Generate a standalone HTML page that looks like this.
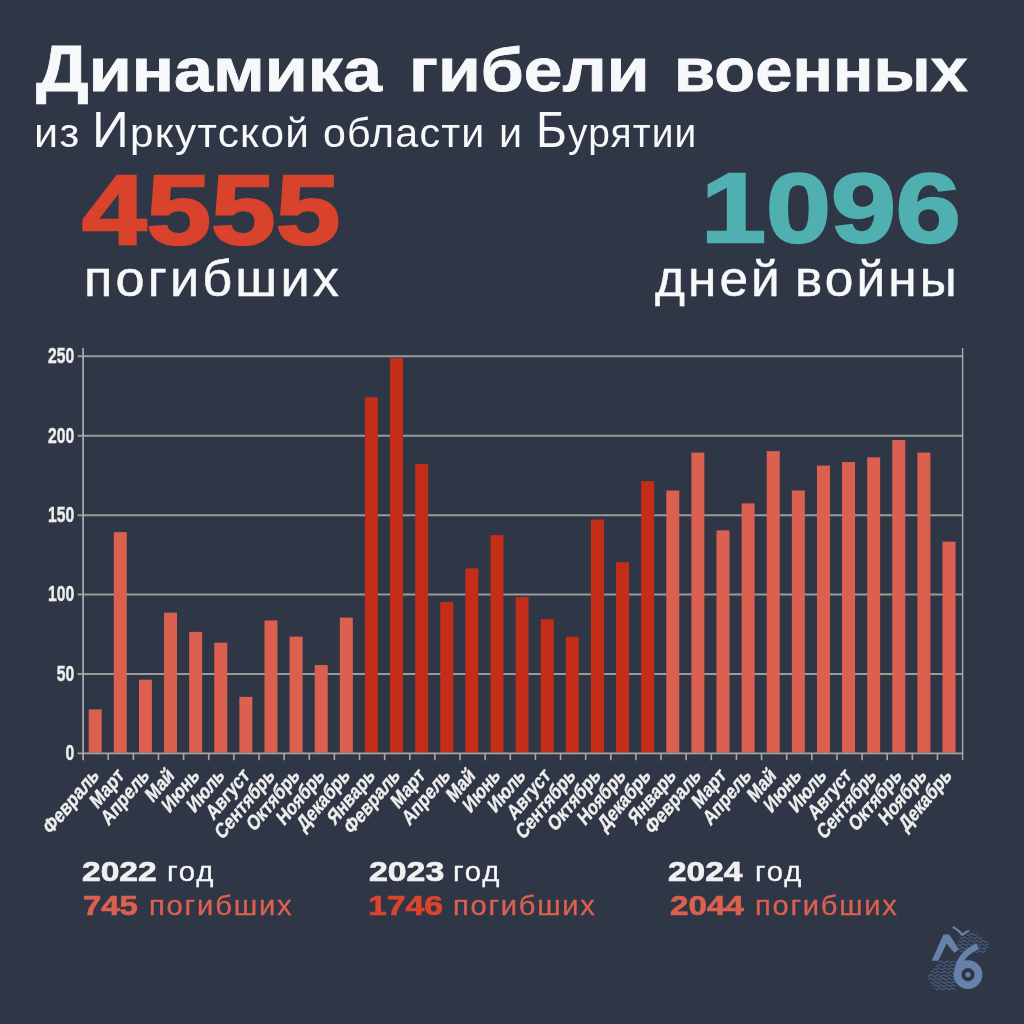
<!DOCTYPE html>
<html lang="ru">
<head>
<meta charset="utf-8">
<title>Динамика гибели военных</title>
<style>
html,body{margin:0;padding:0;}
body{width:1024px;height:1024px;overflow:hidden;background:#2f3645;font-family:"Liberation Sans",sans-serif;}
#page{position:relative;width:1024px;height:1024px;overflow:hidden;background:#2f3645;}
h1,h2,p,div.st,div.lg{margin:0;padding:0;font-weight:normal;font-size:0;}
.t{position:absolute;white-space:nowrap;line-height:1;transform-origin:0 0;display:block;}
.b{font-weight:bold;}
svg{position:absolute;left:0;top:0;}
svg text{font-family:"Liberation Sans",sans-serif;font-weight:bold;}
#t1{left:35.60px;top:39.02px;font-size:61.4px;color:#f7f8fa;transform:scaleX(1.1406);-webkit-text-stroke:0.8px #f7f8fa;}
#t2{left:409.47px;top:39.02px;font-size:61.4px;color:#f7f8fa;transform:scaleX(1.1339);-webkit-text-stroke:0.8px #f7f8fa;}
#t3{left:673.65px;top:39.02px;font-size:61.4px;color:#f7f8fa;transform:scaleX(1.0911);-webkit-text-stroke:0.8px #f7f8fa;}
#s1{left:34.48px;top:113.25px;font-size:41.4px;color:#f7f8fa;transform:scaleX(1.0433);letter-spacing:0.03em;}
#s2{left:92.02px;top:113.25px;font-size:41.4px;color:#f7f8fa;transform:scaleX(1.0220);letter-spacing:0.03em;}
#s3{left:323.10px;top:113.25px;font-size:41.4px;color:#f7f8fa;transform:scaleX(0.9938);letter-spacing:0.03em;}
#s4{left:499.36px;top:113.25px;font-size:41.4px;color:#f7f8fa;transform:scaleX(0.9978);letter-spacing:0.03em;}
#s5{left:536.11px;top:113.25px;font-size:41.4px;color:#f7f8fa;transform:scaleX(0.9390);letter-spacing:0.03em;}
#n1{left:81.52px;top:162.01px;font-size:97.8px;color:#d9432b;transform:scaleX(1.1867);-webkit-text-stroke:2.4px #d9432b;}
#l1{left:83.60px;top:253.58px;font-size:50.0px;color:#f7f8fa;transform:scaleX(1.0460);letter-spacing:0.06em;-webkit-text-stroke:0.5px #f7f8fa;}
#n2{left:700.76px;top:160.31px;font-size:97.8px;color:#50b0b1;transform:scaleX(1.1942);-webkit-text-stroke:2.4px #50b0b1;}
#l2a{left:654.74px;top:253.58px;font-size:50.0px;color:#f7f8fa;transform:scaleX(1.0263);letter-spacing:0.06em;-webkit-text-stroke:0.5px #f7f8fa;}
#l2b{left:795.36px;top:253.58px;font-size:50.0px;color:#f7f8fa;transform:scaleX(1.0282);letter-spacing:0.06em;-webkit-text-stroke:0.5px #f7f8fa;}
#y22{left:82.33px;top:857.54px;font-size:27.6px;color:#f0f0f0;transform:scaleX(1.2174);-webkit-text-stroke:0.7px #f0f0f0;}
#g22{left:166.84px;top:857.21px;font-size:28.4px;color:#f7f8fa;transform:scaleX(1.0353);letter-spacing:0.06em;-webkit-text-stroke:0.3px #f7f8fa;}
#c22{left:82.77px;top:892.09px;font-size:27.6px;color:#dc6050;transform:scaleX(1.1873);-webkit-text-stroke:0.7px #dc6050;}
#p22{left:148.60px;top:890.96px;font-size:28.4px;color:#dc6050;transform:scaleX(1.0304);letter-spacing:0.06em;-webkit-text-stroke:0.3px #dc6050;}
#y23{left:369.07px;top:857.54px;font-size:27.6px;color:#f0f0f0;transform:scaleX(1.2257);-webkit-text-stroke:0.7px #f0f0f0;}
#g23{left:452.84px;top:857.21px;font-size:28.4px;color:#f7f8fa;transform:scaleX(1.0353);letter-spacing:0.06em;-webkit-text-stroke:0.3px #f7f8fa;}
#c23{left:368.06px;top:892.09px;font-size:27.6px;color:#dc442e;transform:scaleX(1.2218);-webkit-text-stroke:0.7px #dc442e;}
#p23{left:452.86px;top:890.96px;font-size:28.4px;color:#dc6050;transform:scaleX(1.0249);letter-spacing:0.06em;-webkit-text-stroke:0.3px #dc6050;}
#y24{left:668.33px;top:857.54px;font-size:27.6px;color:#f0f0f0;transform:scaleX(1.2105);-webkit-text-stroke:0.7px #f0f0f0;}
#g24{left:754.60px;top:857.21px;font-size:28.4px;color:#f7f8fa;transform:scaleX(1.0294);letter-spacing:0.06em;-webkit-text-stroke:0.3px #f7f8fa;}
#c24{left:669.84px;top:892.09px;font-size:27.6px;color:#dc6050;transform:scaleX(1.2023);-webkit-text-stroke:0.7px #dc6050;}
#p24{left:754.61px;top:890.96px;font-size:28.4px;color:#dc6050;transform:scaleX(1.0249);letter-spacing:0.06em;-webkit-text-stroke:0.3px #dc6050;}
</style>
</head>
<body>
<div id="page">
<h1 id="title"><span id="t1" class="t b"><span class="cap" style="font-size:1.057em;line-height:0">Д</span>инамика</span> <span id="t2" class="t b">гибели</span> <span id="t3" class="t b">военных</span></h1>
<h2 id="sub"><span id="s1" class="t">из</span> <span id="s2" class="t"><span class="cap" style="font-size:1.21em;line-height:0">И</span>ркутской</span> <span id="s3" class="t">области</span> <span id="s4" class="t">и</span> <span id="s5" class="t"><span class="cap" style="font-size:1.21em;line-height:0">Б</span>урятии</span></h2>
<div id="stat1" class="st"><span id="n1" class="t b">4555</span> <span id="l1" class="t">погибших</span></div>
<div id="stat2" class="st"><span id="n2" class="t b">1096</span> <span id="l2a" class="t">дней</span> <span id="l2b" class="t">войны</span></div>
<div id="leg22" class="lg"><span id="y22" class="t b">2022</span> <span id="g22" class="t">год</span> <span id="c22" class="t b">745</span> <span id="p22" class="t">погибших</span></div>
<div id="leg23" class="lg"><span id="y23" class="t b">2023</span> <span id="g23" class="t">год</span> <span id="c23" class="t b">1746</span> <span id="p23" class="t">погибших</span></div>
<div id="leg24" class="lg"><span id="y24" class="t b">2024</span> <span id="g24" class="t">год</span> <span id="c24" class="t b">2044</span> <span id="p24" class="t">погибших</span></div>
<svg id="chart" width="1024" height="1024" viewBox="0 0 1024 1024" style="filter:blur(0.6px)">
<g id="grid" stroke="#9b9b98" stroke-width="2.0" fill="none">
<line x1="77.6" y1="673.98" x2="962.6" y2="673.98"/>
<line x1="77.6" y1="594.56" x2="962.6" y2="594.56"/>
<line x1="77.6" y1="515.14" x2="962.6" y2="515.14"/>
<line x1="77.6" y1="435.72" x2="962.6" y2="435.72"/>
<line x1="77.6" y1="356.30" x2="962.6" y2="356.30"/>
</g>
<g id="bars">
<rect x="88.70" y="709.40" width="13.0" height="43.10" fill="#dc6050"/>
<rect x="113.81" y="532.14" width="13.0" height="220.36" fill="#dc6050"/>
<rect x="138.92" y="679.70" width="13.0" height="72.80" fill="#dc6050"/>
<rect x="164.04" y="612.67" width="13.0" height="139.83" fill="#dc6050"/>
<rect x="189.15" y="631.89" width="13.0" height="120.61" fill="#dc6050"/>
<rect x="214.26" y="642.69" width="13.0" height="109.81" fill="#dc6050"/>
<rect x="239.37" y="696.85" width="13.0" height="55.65" fill="#dc6050"/>
<rect x="264.48" y="620.45" width="13.0" height="132.05" fill="#dc6050"/>
<rect x="289.60" y="636.65" width="13.0" height="115.85" fill="#dc6050"/>
<rect x="314.71" y="665.08" width="13.0" height="87.42" fill="#dc6050"/>
<rect x="339.82" y="617.59" width="13.0" height="134.91" fill="#dc6050"/>
<rect x="364.93" y="397.28" width="13.0" height="355.22" fill="#c42e18"/>
<rect x="390.04" y="358.05" width="13.0" height="394.45" fill="#c42e18"/>
<rect x="415.16" y="463.83" width="13.0" height="288.67" fill="#c42e18"/>
<rect x="440.27" y="601.87" width="13.0" height="150.63" fill="#c42e18"/>
<rect x="465.38" y="568.35" width="13.0" height="184.15" fill="#c42e18"/>
<rect x="490.49" y="535.15" width="13.0" height="217.35" fill="#c42e18"/>
<rect x="515.60" y="597.10" width="13.0" height="155.40" fill="#c42e18"/>
<rect x="540.72" y="619.18" width="13.0" height="133.32" fill="#c42e18"/>
<rect x="565.83" y="636.81" width="13.0" height="115.69" fill="#c42e18"/>
<rect x="590.94" y="519.59" width="13.0" height="232.91" fill="#c42e18"/>
<rect x="616.05" y="562.16" width="13.0" height="190.34" fill="#c42e18"/>
<rect x="641.16" y="481.15" width="13.0" height="271.35" fill="#c42e18"/>
<rect x="666.28" y="490.52" width="13.0" height="261.98" fill="#dc6050"/>
<rect x="691.39" y="452.56" width="13.0" height="299.94" fill="#dc6050"/>
<rect x="716.50" y="530.39" width="13.0" height="222.11" fill="#dc6050"/>
<rect x="741.61" y="503.39" width="13.0" height="249.11" fill="#dc6050"/>
<rect x="766.72" y="451.13" width="13.0" height="301.37" fill="#dc6050"/>
<rect x="791.84" y="490.52" width="13.0" height="261.98" fill="#dc6050"/>
<rect x="816.95" y="465.58" width="13.0" height="286.92" fill="#dc6050"/>
<rect x="842.06" y="462.09" width="13.0" height="290.41" fill="#dc6050"/>
<rect x="867.17" y="457.32" width="13.0" height="295.18" fill="#dc6050"/>
<rect x="892.28" y="440.01" width="13.0" height="312.49" fill="#dc6050"/>
<rect x="917.40" y="452.56" width="13.0" height="299.94" fill="#dc6050"/>
<rect x="942.51" y="541.67" width="13.0" height="210.83" fill="#dc6050"/>
</g>
<g id="axes" stroke="#a6a6a4" fill="none">
<line x1="77.6" y1="753.4" x2="962.6" y2="753.4" stroke-width="1.8"/>
<line x1="83.1" y1="348" x2="83.1" y2="760.2" stroke-width="1.8"/>
<line x1="962.6" y1="348" x2="962.6" y2="760.2" stroke-width="1.4" stroke="#a9adad"/>
<line x1="108.23" y1="753.4" x2="108.23" y2="760.2" stroke-width="1.6"/>
<line x1="133.36" y1="753.4" x2="133.36" y2="760.2" stroke-width="1.6"/>
<line x1="158.49" y1="753.4" x2="158.49" y2="760.2" stroke-width="1.6"/>
<line x1="183.61" y1="753.4" x2="183.61" y2="760.2" stroke-width="1.6"/>
<line x1="208.74" y1="753.4" x2="208.74" y2="760.2" stroke-width="1.6"/>
<line x1="233.87" y1="753.4" x2="233.87" y2="760.2" stroke-width="1.6"/>
<line x1="259.00" y1="753.4" x2="259.00" y2="760.2" stroke-width="1.6"/>
<line x1="284.13" y1="753.4" x2="284.13" y2="760.2" stroke-width="1.6"/>
<line x1="309.26" y1="753.4" x2="309.26" y2="760.2" stroke-width="1.6"/>
<line x1="334.39" y1="753.4" x2="334.39" y2="760.2" stroke-width="1.6"/>
<line x1="359.51" y1="753.4" x2="359.51" y2="760.2" stroke-width="1.6"/>
<line x1="384.64" y1="753.4" x2="384.64" y2="760.2" stroke-width="1.6"/>
<line x1="409.77" y1="753.4" x2="409.77" y2="760.2" stroke-width="1.6"/>
<line x1="434.90" y1="753.4" x2="434.90" y2="760.2" stroke-width="1.6"/>
<line x1="460.03" y1="753.4" x2="460.03" y2="760.2" stroke-width="1.6"/>
<line x1="485.16" y1="753.4" x2="485.16" y2="760.2" stroke-width="1.6"/>
<line x1="510.29" y1="753.4" x2="510.29" y2="760.2" stroke-width="1.6"/>
<line x1="535.41" y1="753.4" x2="535.41" y2="760.2" stroke-width="1.6"/>
<line x1="560.54" y1="753.4" x2="560.54" y2="760.2" stroke-width="1.6"/>
<line x1="585.67" y1="753.4" x2="585.67" y2="760.2" stroke-width="1.6"/>
<line x1="610.80" y1="753.4" x2="610.80" y2="760.2" stroke-width="1.6"/>
<line x1="635.93" y1="753.4" x2="635.93" y2="760.2" stroke-width="1.6"/>
<line x1="661.06" y1="753.4" x2="661.06" y2="760.2" stroke-width="1.6"/>
<line x1="686.19" y1="753.4" x2="686.19" y2="760.2" stroke-width="1.6"/>
<line x1="711.31" y1="753.4" x2="711.31" y2="760.2" stroke-width="1.6"/>
<line x1="736.44" y1="753.4" x2="736.44" y2="760.2" stroke-width="1.6"/>
<line x1="761.57" y1="753.4" x2="761.57" y2="760.2" stroke-width="1.6"/>
<line x1="786.70" y1="753.4" x2="786.70" y2="760.2" stroke-width="1.6"/>
<line x1="811.83" y1="753.4" x2="811.83" y2="760.2" stroke-width="1.6"/>
<line x1="836.96" y1="753.4" x2="836.96" y2="760.2" stroke-width="1.6"/>
<line x1="862.09" y1="753.4" x2="862.09" y2="760.2" stroke-width="1.6"/>
<line x1="887.21" y1="753.4" x2="887.21" y2="760.2" stroke-width="1.6"/>
<line x1="912.34" y1="753.4" x2="912.34" y2="760.2" stroke-width="1.6"/>
<line x1="937.47" y1="753.4" x2="937.47" y2="760.2" stroke-width="1.6"/>
</g>
<g id="ylabels" fill="#eeeeee" stroke="#eeeeee" stroke-width="0.4" font-size="18.15" text-anchor="end">
<text transform="translate(74.3,760.30) scale(0.865,1.2)">0</text>
<text transform="translate(74.3,680.88) scale(0.865,1.2)">50</text>
<text transform="translate(74.3,601.46) scale(0.865,1.2)">100</text>
<text transform="translate(74.3,522.04) scale(0.865,1.2)">150</text>
<text transform="translate(74.3,442.62) scale(0.865,1.2)">200</text>
<text transform="translate(74.3,363.20) scale(0.865,1.2)">250</text>
</g>
<g id="xlabels" fill="#eeeeee" stroke="#eeeeee" stroke-width="0.4" font-size="18.15" text-anchor="end">
<text transform="translate(99.90,776.7) scale(1,1.2) rotate(-45) scale(0.865,1)">Февраль</text>
<text transform="translate(124.98,776.7) scale(1,1.2) rotate(-45) scale(0.865,1)">Март</text>
<text transform="translate(150.06,776.7) scale(1,1.2) rotate(-45) scale(0.865,1)">Апрель</text>
<text transform="translate(175.14,776.7) scale(1,1.2) rotate(-45) scale(0.865,1)">Май</text>
<text transform="translate(200.22,776.7) scale(1,1.2) rotate(-45) scale(0.865,1)">Июнь</text>
<text transform="translate(225.30,776.7) scale(1,1.2) rotate(-45) scale(0.865,1)">Июль</text>
<text transform="translate(250.38,776.7) scale(1,1.2) rotate(-45) scale(0.865,1)">Август</text>
<text transform="translate(275.46,776.7) scale(1,1.2) rotate(-45) scale(0.865,1)">Сентябрь</text>
<text transform="translate(300.54,776.7) scale(1,1.2) rotate(-45) scale(0.865,1)">Октябрь</text>
<text transform="translate(325.62,776.7) scale(1,1.2) rotate(-45) scale(0.865,1)">Ноябрь</text>
<text transform="translate(350.70,776.7) scale(1,1.2) rotate(-45) scale(0.865,1)">Декабрь</text>
<text transform="translate(375.78,776.7) scale(1,1.2) rotate(-45) scale(0.865,1)">Январь</text>
<text transform="translate(400.86,776.7) scale(1,1.2) rotate(-45) scale(0.865,1)">Февраль</text>
<text transform="translate(425.94,776.7) scale(1,1.2) rotate(-45) scale(0.865,1)">Март</text>
<text transform="translate(451.02,776.7) scale(1,1.2) rotate(-45) scale(0.865,1)">Апрель</text>
<text transform="translate(476.10,776.7) scale(1,1.2) rotate(-45) scale(0.865,1)">Май</text>
<text transform="translate(501.18,776.7) scale(1,1.2) rotate(-45) scale(0.865,1)">Июнь</text>
<text transform="translate(526.26,776.7) scale(1,1.2) rotate(-45) scale(0.865,1)">Июль</text>
<text transform="translate(551.34,776.7) scale(1,1.2) rotate(-45) scale(0.865,1)">Август</text>
<text transform="translate(576.42,776.7) scale(1,1.2) rotate(-45) scale(0.865,1)">Сентябрь</text>
<text transform="translate(601.50,776.7) scale(1,1.2) rotate(-45) scale(0.865,1)">Октябрь</text>
<text transform="translate(626.58,776.7) scale(1,1.2) rotate(-45) scale(0.865,1)">Ноябрь</text>
<text transform="translate(651.66,776.7) scale(1,1.2) rotate(-45) scale(0.865,1)">Декабрь</text>
<text transform="translate(676.74,776.7) scale(1,1.2) rotate(-45) scale(0.865,1)">Январь</text>
<text transform="translate(701.82,776.7) scale(1,1.2) rotate(-45) scale(0.865,1)">Февраль</text>
<text transform="translate(726.90,776.7) scale(1,1.2) rotate(-45) scale(0.865,1)">Март</text>
<text transform="translate(751.98,776.7) scale(1,1.2) rotate(-45) scale(0.865,1)">Апрель</text>
<text transform="translate(777.06,776.7) scale(1,1.2) rotate(-45) scale(0.865,1)">Май</text>
<text transform="translate(802.14,776.7) scale(1,1.2) rotate(-45) scale(0.865,1)">Июнь</text>
<text transform="translate(827.22,776.7) scale(1,1.2) rotate(-45) scale(0.865,1)">Июль</text>
<text transform="translate(852.30,776.7) scale(1,1.2) rotate(-45) scale(0.865,1)">Август</text>
<text transform="translate(877.38,776.7) scale(1,1.2) rotate(-45) scale(0.865,1)">Сентябрь</text>
<text transform="translate(902.46,776.7) scale(1,1.2) rotate(-45) scale(0.865,1)">Октябрь</text>
<text transform="translate(927.54,776.7) scale(1,1.2) rotate(-45) scale(0.865,1)">Ноябрь</text>
<text transform="translate(952.62,776.7) scale(1,1.2) rotate(-45) scale(0.865,1)">Декабрь</text>
</g>
</svg>
<svg id="logo" width="1024" height="1024" viewBox="0 0 1024 1024" style="filter:blur(0.35px)">
<defs><clipPath id="w1"><polygon points="941,959.5 957,961.5 956,990.5 936,990.5 926.5,977"/></clipPath><clipPath id="w2"><polygon points="960,934.5 975,931.5 990,943 985,954 960,953.5 957,945"/></clipPath></defs>
<g fill="none" stroke="#5873a0" stroke-width="1.25" opacity="0.6">
<g clip-path="url(#w1)">
<path d="M925.0,962.8L925.8,962.8L926.6,962.3L927.4,961.6L928.1,961.1L928.9,961.2L929.7,961.7L930.5,962.4L931.3,962.9L932.1,962.8L932.9,962.2L933.6,961.5L934.4,961.1L935.2,961.2L936.0,961.8L936.8,962.5L937.6,962.9L938.4,962.7L939.1,962.1L939.9,961.5L940.7,961.1L941.5,961.3L942.3,961.9L943.1,962.6L943.9,962.9L944.6,962.7L945.4,962.1L946.2,961.4L947.0,961.1L947.8,961.3L948.6,962.0L949.4,962.6L950.1,962.9L950.9,962.6L951.7,962.0L952.5,961.3L953.3,961.1L954.1,961.4L954.9,962.1L955.6,962.7L956.4,962.9L957.2,962.6L958.0,961.9"/>
<path d="M925.0,966.2L925.8,965.6L926.6,964.9L927.4,964.5L928.1,964.7L928.9,965.2L929.7,965.9L930.5,966.3L931.3,966.1L932.1,965.5L932.9,964.9L933.6,964.5L934.4,964.7L935.2,965.3L936.0,966.0L936.8,966.3L937.6,966.1L938.4,965.4L939.1,964.8L939.9,964.5L940.7,964.7L941.5,965.4L942.3,966.0L943.1,966.3L943.9,966.0L944.6,965.4L945.4,964.7L946.2,964.5L947.0,964.8L947.8,965.5L948.6,966.1L949.4,966.3L950.1,966.0L950.9,965.3L951.7,964.7L952.5,964.5L953.3,964.9L954.1,965.5L954.9,966.1L955.6,966.3L956.4,965.9L957.2,965.2L958.0,964.6"/>
<path d="M925.0,968.9L925.8,968.2L926.6,967.9L927.4,968.1L928.1,968.7L928.9,969.4L929.7,969.7L930.5,969.5L931.3,968.8L932.1,968.2L932.9,967.9L933.6,968.2L934.4,968.8L935.2,969.4L936.0,969.7L936.8,969.4L937.6,968.8L938.4,968.1L939.1,967.9L939.9,968.2L940.7,968.9L941.5,969.5L942.3,969.7L943.1,969.4L943.9,968.7L944.6,968.1L945.4,967.9L946.2,968.3L947.0,969.0L947.8,969.5L948.6,969.7L949.4,969.3L950.1,968.6L950.9,968.0L951.7,967.9L952.5,968.3L953.3,969.0L954.1,969.6L954.9,969.7L955.6,969.2L956.4,968.5L957.2,968.0L958.0,967.9"/>
<path d="M925.0,971.6L925.8,971.3L926.6,971.6L927.4,972.2L928.1,972.9L928.9,973.1L929.7,972.8L930.5,972.1L931.3,971.5L932.1,971.3L932.9,971.6L933.6,972.3L934.4,972.9L935.2,973.1L936.0,972.7L936.8,972.1L937.6,971.5L938.4,971.3L939.1,971.7L939.9,972.4L940.7,973.0L941.5,973.1L942.3,972.7L943.1,972.0L943.9,971.4L944.6,971.3L945.4,971.8L946.2,972.5L947.0,973.0L947.8,973.1L948.6,972.6L949.4,971.9L950.1,971.4L950.9,971.4L951.7,971.8L952.5,972.5L953.3,973.0L954.1,973.0L954.9,972.5L955.6,971.8L956.4,971.4L957.2,971.4L958.0,971.9"/>
<path d="M925.0,974.7L925.8,975.0L926.6,975.7L927.4,976.3L928.1,976.5L928.9,976.1L929.7,975.4L930.5,974.9L931.3,974.7L932.1,975.1L932.9,975.8L933.6,976.4L934.4,976.5L935.2,976.1L936.0,975.4L936.8,974.8L937.6,974.7L938.4,975.2L939.1,975.9L939.9,976.4L940.7,976.5L941.5,976.0L942.3,975.3L943.1,974.8L943.9,974.8L944.6,975.2L945.4,975.9L946.2,976.4L947.0,976.4L947.8,975.9L948.6,975.2L949.4,974.8L950.1,974.8L950.9,975.3L951.7,976.0L952.5,976.5L953.3,976.4L954.1,975.8L954.9,975.2L955.6,974.7L956.4,974.8L957.2,975.4L958.0,976.1"/>
<path d="M925.0,978.5L925.8,979.2L926.6,979.8L927.4,979.9L928.1,979.5L928.9,978.8L929.7,978.2L930.5,978.1L931.3,978.6L932.1,979.3L932.9,979.8L933.6,979.8L934.4,979.4L935.2,978.7L936.0,978.2L936.8,978.2L937.6,978.7L938.4,979.4L939.1,979.8L939.9,979.8L940.7,979.3L941.5,978.6L942.3,978.1L943.1,978.2L943.9,978.7L944.6,979.4L945.4,979.9L946.2,979.8L947.0,979.2L947.8,978.5L948.6,978.1L949.4,978.2L950.1,978.8L950.9,979.5L951.7,979.9L952.5,979.7L953.3,979.2L954.1,978.5L954.9,978.1L955.6,978.3L956.4,978.9L957.2,979.6L958.0,979.9"/>
<path d="M925.0,982.7L925.8,983.2L926.6,983.2L927.4,982.8L928.1,982.1L928.9,981.6L929.7,981.6L930.5,982.1L931.3,982.8L932.1,983.2L932.9,983.2L933.6,982.7L934.4,982.0L935.2,981.5L936.0,981.6L936.8,982.1L937.6,982.8L938.4,983.3L939.1,983.2L939.9,982.6L940.7,981.9L941.5,981.5L942.3,981.6L943.1,982.2L943.9,982.9L944.6,983.3L945.4,983.1L946.2,982.5L947.0,981.9L947.8,981.5L948.6,981.7L949.4,982.3L950.1,983.0L950.9,983.3L951.7,983.1L952.5,982.5L953.3,981.8L954.1,981.5L954.9,981.7L955.6,982.4L956.4,983.0L957.2,983.3L958.0,983.0"/>
<path d="M925.0,986.6L925.8,986.6L926.6,986.1L927.4,985.4L928.1,984.9L928.9,985.0L929.7,985.6L930.5,986.2L931.3,986.7L932.1,986.6L932.9,986.0L933.6,985.3L934.4,984.9L935.2,985.1L936.0,985.6L936.8,986.3L937.6,986.7L938.4,986.5L939.1,985.9L939.9,985.3L940.7,984.9L941.5,985.1L942.3,985.7L943.1,986.4L943.9,986.7L944.6,986.5L945.4,985.8L946.2,985.2L947.0,984.9L947.8,985.1L948.6,985.8L949.4,986.4L950.1,986.7L950.9,986.4L951.7,985.8L952.5,985.1L953.3,984.9L954.1,985.2L954.9,985.9L955.6,986.5L956.4,986.7L957.2,986.4L958.0,985.7"/>
<path d="M925.0,989.8L925.8,989.2L926.6,988.5L927.4,988.1L928.1,988.3L928.9,988.8L929.7,989.5L930.5,989.9L931.3,989.7L932.1,989.1L932.9,988.4L933.6,988.1L934.4,988.3L935.2,988.9L936.0,989.6L936.8,989.9L937.6,989.7L938.4,989.0L939.1,988.4L939.9,988.1L940.7,988.4L941.5,989.0L942.3,989.6L943.1,989.9L943.9,989.6L944.6,989.0L945.4,988.3L946.2,988.1L947.0,988.4L947.8,989.1L948.6,989.7L949.4,989.9L950.1,989.6L950.9,988.9L951.7,988.3L952.5,988.1L953.3,988.5L954.1,989.2L954.9,989.7L955.6,989.9L956.4,989.5L957.2,988.8L958.0,988.2"/>
</g><g clip-path="url(#w2)">
<path d="M956.0,935.3L956.8,935.3L957.6,934.8L958.4,934.1L959.2,933.6L960.0,933.7L960.8,934.3L961.6,935.0L962.4,935.4L963.2,935.2L964.0,934.6L964.8,933.9L965.5,933.6L966.3,933.8L967.1,934.4L967.9,935.1L968.7,935.4L969.5,935.1L970.3,934.5L971.1,933.8L971.9,933.6L972.7,933.9L973.5,934.6L974.3,935.2L975.1,935.4L975.9,935.0L976.7,934.3L977.5,933.7L978.3,933.6L979.1,934.0L979.9,934.7L980.7,935.3L981.5,935.4L982.2,934.9L983.0,934.2L983.8,933.7L984.6,933.7L985.4,934.2L986.2,934.9L987.0,935.4L987.8,935.3L988.6,934.8L989.4,934.1L990.2,933.6L991.0,933.7"/>
<path d="M956.0,938.7L956.8,938.1L957.6,937.4L958.4,937.0L959.2,937.2L960.0,937.8L960.8,938.5L961.6,938.8L962.4,938.6L963.2,937.9L964.0,937.3L964.8,937.0L965.5,937.3L966.3,937.9L967.1,938.6L967.9,938.8L968.7,938.5L969.5,937.8L970.3,937.2L971.1,937.0L971.9,937.4L972.7,938.1L973.5,938.7L974.3,938.8L975.1,938.4L975.9,937.7L976.7,937.1L977.5,937.0L978.3,937.5L979.1,938.2L979.9,938.7L980.7,938.7L981.5,938.2L982.2,937.5L983.0,937.0L983.8,937.1L984.6,937.7L985.4,938.4L986.2,938.8L987.0,938.7L987.8,938.1L988.6,937.4L989.4,937.0L990.2,937.2L991.0,937.8"/>
<path d="M956.0,941.4L956.8,940.7L957.6,940.4L958.4,940.6L959.2,941.3L960.0,941.9L960.8,942.2L961.6,941.9L962.4,941.3L963.2,940.6L964.0,940.4L964.8,940.7L965.5,941.4L966.3,942.0L967.1,942.2L967.9,941.8L968.7,941.1L969.5,940.5L970.3,940.4L971.1,940.9L971.9,941.6L972.7,942.1L973.5,942.2L974.3,941.7L975.1,941.0L975.9,940.5L976.7,940.5L977.5,941.0L978.3,941.7L979.1,942.2L979.9,942.1L980.7,941.5L981.5,940.8L982.2,940.4L983.0,940.5L983.8,941.1L984.6,941.8L985.4,942.2L986.2,942.0L987.0,941.4L987.8,940.7L988.6,940.4L989.4,940.6L990.2,941.3L991.0,941.9"/>
<path d="M956.0,944.1L956.8,943.8L957.6,944.1L958.4,944.7L959.2,945.4L960.0,945.6L960.8,945.3L961.6,944.6L962.4,944.0L963.2,943.8L964.0,944.2L964.8,944.9L965.5,945.5L966.3,945.6L967.1,945.1L967.9,944.4L968.7,943.9L969.5,943.9L970.3,944.3L971.1,945.0L971.9,945.5L972.7,945.5L973.5,945.0L974.3,944.3L975.1,943.8L975.9,943.9L976.7,944.5L977.5,945.2L978.3,945.6L979.1,945.4L979.9,944.9L980.7,944.2L981.5,943.8L982.2,944.0L983.0,944.6L983.8,945.3L984.6,945.6L985.4,945.4L986.2,944.7L987.0,944.1L987.8,943.8L988.6,944.1L989.4,944.8L990.2,945.4L991.0,945.6"/>
<path d="M956.0,947.2L956.8,947.5L957.6,948.2L958.4,948.8L959.2,949.0L960.0,948.6L960.8,947.9L961.6,947.3L962.4,947.2L963.2,947.7L964.0,948.4L964.8,948.9L965.5,948.9L966.3,948.5L967.1,947.8L967.9,947.3L968.7,947.3L969.5,947.8L970.3,948.5L971.1,949.0L971.9,948.9L972.7,948.3L973.5,947.6L974.3,947.2L975.1,947.4L975.9,948.0L976.7,948.6L977.5,949.0L978.3,948.8L979.1,948.2L979.9,947.5L980.7,947.2L981.5,947.5L982.2,948.1L983.0,948.8L983.8,949.0L984.6,948.7L985.4,948.0L986.2,947.4L987.0,947.2L987.8,947.6L988.6,948.3L989.4,948.8L990.2,949.0L991.0,948.6"/>
<path d="M956.0,951.0L956.8,951.7L957.6,952.3L958.4,952.4L959.2,951.9L960.0,951.2L960.8,950.7L961.6,950.7L962.4,951.1L963.2,951.9L964.0,952.3L964.8,952.3L965.5,951.8L966.3,951.1L967.1,950.6L967.9,950.7L968.7,951.3L969.5,952.0L970.3,952.4L971.1,952.2L971.9,951.6L972.7,951.0L973.5,950.6L974.3,950.8L975.1,951.4L975.9,952.1L976.7,952.4L977.5,952.1L978.3,951.5L979.1,950.8L979.9,950.6L980.7,950.9L981.5,951.6L982.2,952.2L983.0,952.4L983.8,952.0L984.6,951.3L985.4,950.7L986.2,950.6L987.0,951.0L987.8,951.7L988.6,952.3L989.4,952.4L990.2,951.9L991.0,951.2"/>
</g></g>
<g fill="none" stroke="#6682ab" stroke-linejoin="miter" stroke-miterlimit="6">

<path d="M957.4,973.5 Q957.5,955.5 977.6,946.2" stroke-width="6"/>
<circle cx="968" cy="974.6" r="10.5" stroke-width="7.8"/>
<path d="M952.8,927 Q958.5,929.6 962.2,934.8 Q965,931.8 969.2,930.7" stroke-width="2"/>
</g>
<circle cx="968" cy="974.6" r="2.7" fill="#6682ab"/>
<polygon points="931.7,960.7 938.4,960.7 946.6,943.6 954.3,953 959,949.6 949.3,934.5 943.4,934.5" fill="#6682ab"/>
</svg>
</div>
</body>
</html>
